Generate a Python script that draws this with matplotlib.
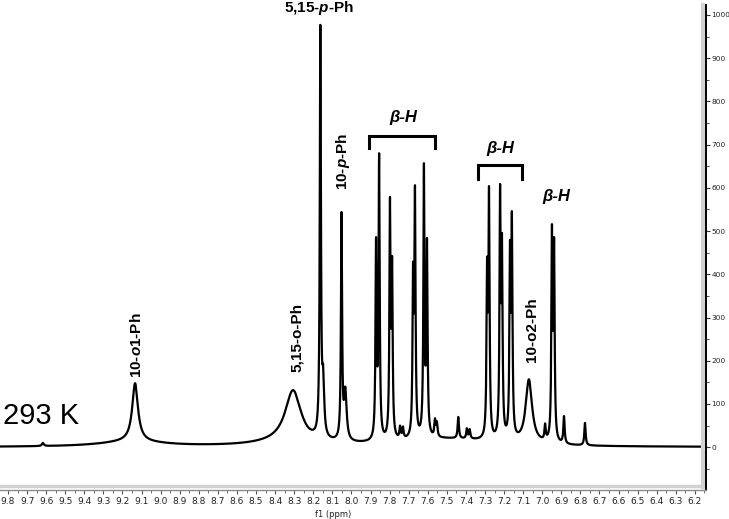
import numpy as np
import matplotlib
matplotlib.use("Agg")
from matplotlib import pyplot as plt

plt.rcParams['font.family'] = ['Liberation Sans', 'DejaVu Sans']
plt.rcParams['mathtext.fontset'] = 'custom'
plt.rcParams['mathtext.rm'] = 'Liberation Sans:bold'
plt.rcParams['mathtext.it'] = 'Liberation Sans:italic:bold'

# peak centres (ppm), apparent heights, half widths (ppm)
peak_ppm = [9.617, 9.134, 8.306, 8.230, 8.163, 8.148, 8.052, 8.032,
            7.871, 7.855, 7.798, 7.787, 7.745, 7.730, 7.677, 7.667,
            7.620, 7.604, 7.562, 7.552, 7.440, 7.395, 7.380,
            7.289, 7.279, 7.221, 7.211, 7.169, 7.159, 7.070,
            6.985, 6.949, 6.938, 6.886, 6.776]
peak_height = [10, 148, 132, 48, 977, 190, 544, 140,
               486, 680, 579, 442, 50, 48, 428, 606,
               657, 484, 67, 60, 70, 44, 42,
               440, 604, 609, 495, 479, 546, 157,
               55, 516, 486, 72, 56]
peak_hw = [0.006, 0.018, 0.05, 0.02, 0.0035, 0.006, 0.0035, 0.008,
           0.0035, 0.0035, 0.0035, 0.0035, 0.004, 0.004, 0.0035, 0.0035,
           0.0035, 0.0035, 0.004, 0.004, 0.004, 0.004, 0.004,
           0.0035, 0.0035, 0.0035, 0.0035, 0.0035, 0.0035, 0.02,
           0.004, 0.0035, 0.0035, 0.004, 0.004]

# broad humps of the baseline
base_ppm = [9.15, 8.35, 7.5]
base_amp = [12, 8, 18]
base_hw = [0.2, 0.2, 0.3]

# axis ranges
x_left, x_right = 9.842, 6.142
y_low, y_high = -99, 1023


def lorentz(x, x0, hw):
    return hw ** 2 / ((x - x0) ** 2 + hw ** 2)


def baseline(x):
    return sum(a * lorentz(x, c, w) for c, a, w in zip(base_ppm, base_amp, base_hw))


centres = np.array(peak_ppm)
widths = np.array(peak_hw)
# amplitudes so that the summed trace reaches the read heights at each centre
M = lorentz(centres[:, None], centres[None, :], widths[None, :])
amps = np.linalg.solve(M, np.array(peak_height) - baseline(centres))

ppm = np.union1d(np.arange(x_right, x_left, 0.0002), centres)
spectrum = baseline(ppm)
for c, a, w in zip(centres, amps, widths):
    spectrum = spectrum + a * lorentz(ppm, c, w)

fig = plt.figure(figsize=(7.29, 5.19), dpi=100)
ax = fig.add_axes([0, 0.0559, 0.9684, 0.9345])
ax.plot(ppm, spectrum, color='black', lw=1.6)
ax.set_xlim(x_left, x_right)
ax.set_ylim(y_low, y_high)

# spines
ax.spines['left'].set_visible(False)
ax.spines['top'].set_visible(False)
ax.spines['right'].set_color('black')
ax.spines['right'].set_linewidth(1.4)
ax.spines['bottom'].set_color('#8a8a8a')
ax.spines['bottom'].set_linewidth(1.0)
ax.plot([0.9955, 0.9955], [0.006, 1], transform=ax.transAxes, color='#d2d2d2', lw=3, clip_on=False)
ax.plot([0, 0.993], [0.0075, 0.0075], transform=ax.transAxes, color='#d2d2d2', lw=2.5, clip_on=False)

# bottom ticks
xt = np.round(np.arange(6.2, 9.81, 0.1), 1)
ax.set_xticks(xt)
ax.set_xticklabels(['%.1f' % v for v in xt], fontsize=6.5, family='DejaVu Sans', color='#222222')
ax.set_xticks(np.round(np.arange(6.15, 9.84, 0.05), 2), minor=True)
ax.tick_params(axis='x', which='major', direction='out', length=3, width=0.8, color='#555555', pad=2)
ax.tick_params(axis='x', which='minor', direction='out', length=2, width=0.6, color='#555555')

# right ticks
ax.yaxis.tick_right()
yt = np.arange(0, 1001, 100)
ax.set_yticks(yt)
ax.set_yticklabels([str(v) for v in yt], fontsize=5.3, family='DejaVu Sans', color='#222222')
ax.set_yticks(np.arange(-50, 1001, 50), minor=True)
ax.tick_params(axis='y', which='major', direction='out', length=3, width=0.8, color='#333333', pad=1)
ax.tick_params(axis='y', which='minor', direction='out', length=2, width=0.6, color='#333333')

fig.text(0.457, 0.0096, 'f1 (ppm)', fontsize=6, family='DejaVu Sans', color='#222222', ha='center', va='center')

# peak labels
lab = dict(fontsize=11, ha='center', va='center', fontweight='bold')
ax.text(8.170, 1016, '5,15-$\\mathit{p}$-Ph', **lab)
ax.text(8.044, 660, '10-$\\mathit{p}$-Ph', rotation=90, **lab)
ax.text(9.129, 236, '10-$\\mathit{o1}$-Ph', rotation=90, **lab)
ax.text(8.285, 255, '5,15-o-Ph', rotation=90, **lab)
ax.text(7.054, 271, '10-o2-Ph', rotation=90, **lab)
for x, y in [(7.730, 762), (7.221, 692), (6.928, 579)]:
    ax.text(x, y, 'β-H', fontsize=12, ha='center', va='center', fontweight='bold', fontstyle='italic')

# brackets over the beta-H groups
for x0, x1, y0, y1 in [(7.908, 7.562, 720, 692), (7.337, 7.106, 653, 620)]:
    ax.plot([x0, x0, x1, x1], [y1, y0, y0, y1], color='black', lw=2.2, solid_joinstyle='miter')

ax.text(9.826, 72, '293 K', fontsize=21, ha='left', va='center')

fig.savefig('out.png', dpi=100)
